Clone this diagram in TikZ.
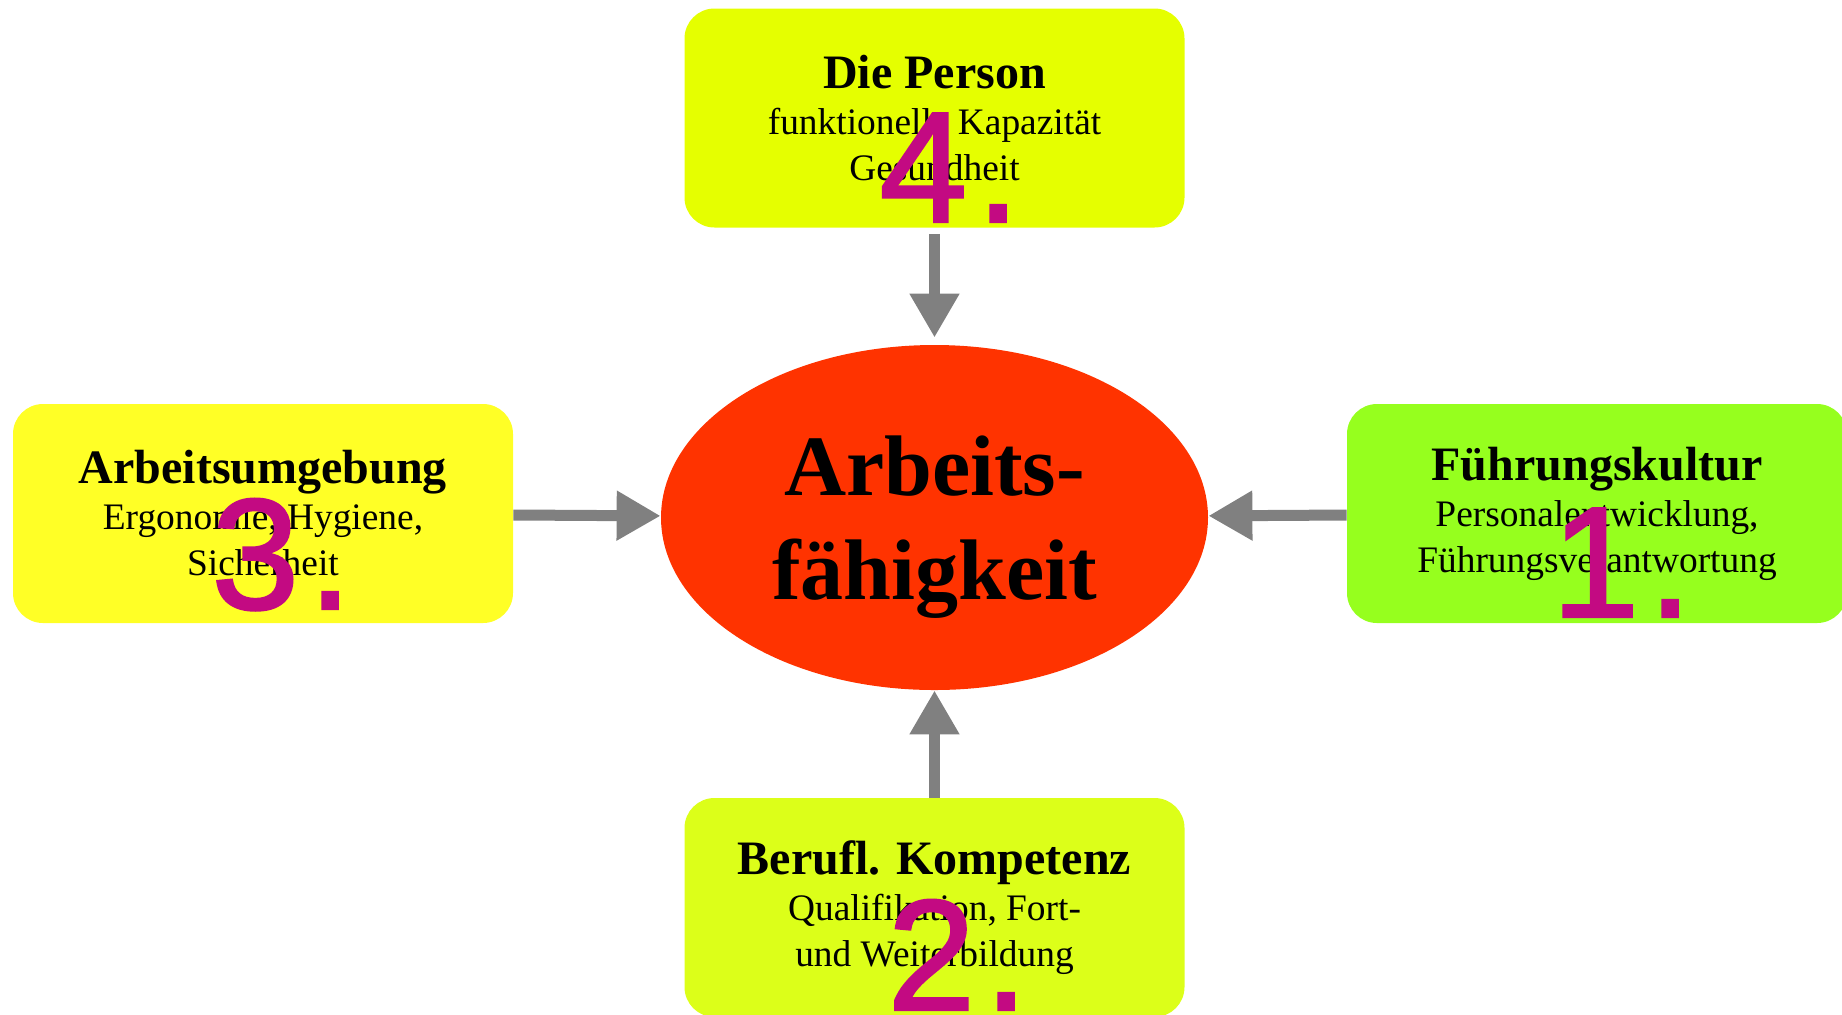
\documentclass[tikz,border=0pt]{standalone}
\usepackage{fontspec}
\setmainfont{Liberation Serif}
\newfontfamily\chiffre[FakeBold=1.5]{Liberation Sans}
\usetikzlibrary{arrows.meta,shapes.geometric}
\definecolor{fondpersonne}{RGB}{229,255,0}
\definecolor{fondumgebung}{RGB}{255,255,38}
\definecolor{fondfuehrung}{RGB}{150,255,30}
\definecolor{fondkompetenz}{RGB}{220,255,25}
\definecolor{fondcentre}{RGB}{255,51,0}
\definecolor{grisfleche}{RGB}{128,128,128}
\definecolor{magentanum}{RGB}{195,10,130}
\newcommand\titre[1]{{\fontsize{24}{23}\selectfont\bfseries #1}}
\newcommand\numpt[1]{#1\kern4.5pt.}

\begin{document}
\begin{tikzpicture}[x=0.5pt,y=-0.5pt,
    bloc/.style={rectangle, rounded corners=15pt, minimum width=250pt, minimum height=109.5pt,
      inner sep=0pt, align=center, font=\fontsize{18.7}{23}\selectfont},
    fleche/.style={draw=grisfleche, line width=5.5pt, -{Triangle[length=22pt,width=23.5pt]}},
    numero/.style={anchor=base west, inner sep=0pt, text=magentanum,
      font=\chiffre\fontsize{79}{79}\selectfont}]
        \useasboundingbox (0,0) rectangle (1842,1014);
        % Ellipse centrale
        \node[ellipse, fill=fondcentre, minimum width=273.5pt, minimum height=172.5pt, inner sep=0pt,
          align=center, text depth=0pt, font=\fontsize{43}{52}\selectfont\bfseries]
          (capacite) at (934.5,517.5) {Arbeits-\\fähigkeit};
        % Les quatre blocs
        \node[bloc, fill=fondpersonne] (personne) at (934.5,118)
          {\titre{Die Person}\\funktionelle Kapazität\\Gesundheit};
        \node[bloc, fill=fondumgebung] (umgebung) at (263,513.5)
          {\titre{Arbeitsumgebung}\\Ergonomie, Hygiene,\\Sicherheit};
        \node[bloc, fill=fondfuehrung] (fuehrung) at (1597,513.5)
          {\titre{Führungskultur}\\Personalentwicklung,\\Führungsverantwortung};
        \node[bloc, fill=fondkompetenz] (kompetenz) at (934.5,907.5)
          {\titre{Berufl. Kompetenz}\\Qualifikation, Fort-\\und Weiterbildung};
        % Flèches vers le centre
        \draw[fleche, shorten <=3pt, shorten >=3.5pt] (personne) -- (capacite);
        \draw[fleche] (umgebung) -- (capacite);
        \draw[fleche] (fuehrung) -- (capacite);
        \draw[fleche] (kompetenz) -- (capacite);
        % Numéros
        \node[numero] (num1) at (1551,617) {\numpt{1}};
        \node[numero] (num2) at (887,1010) {\numpt{2}};
        \node[numero] (num3) at (211,609) {\numpt{3}};
        \node[numero] (num4) at (879,222) {\numpt{4}};
    \end{tikzpicture}
\end{document}
